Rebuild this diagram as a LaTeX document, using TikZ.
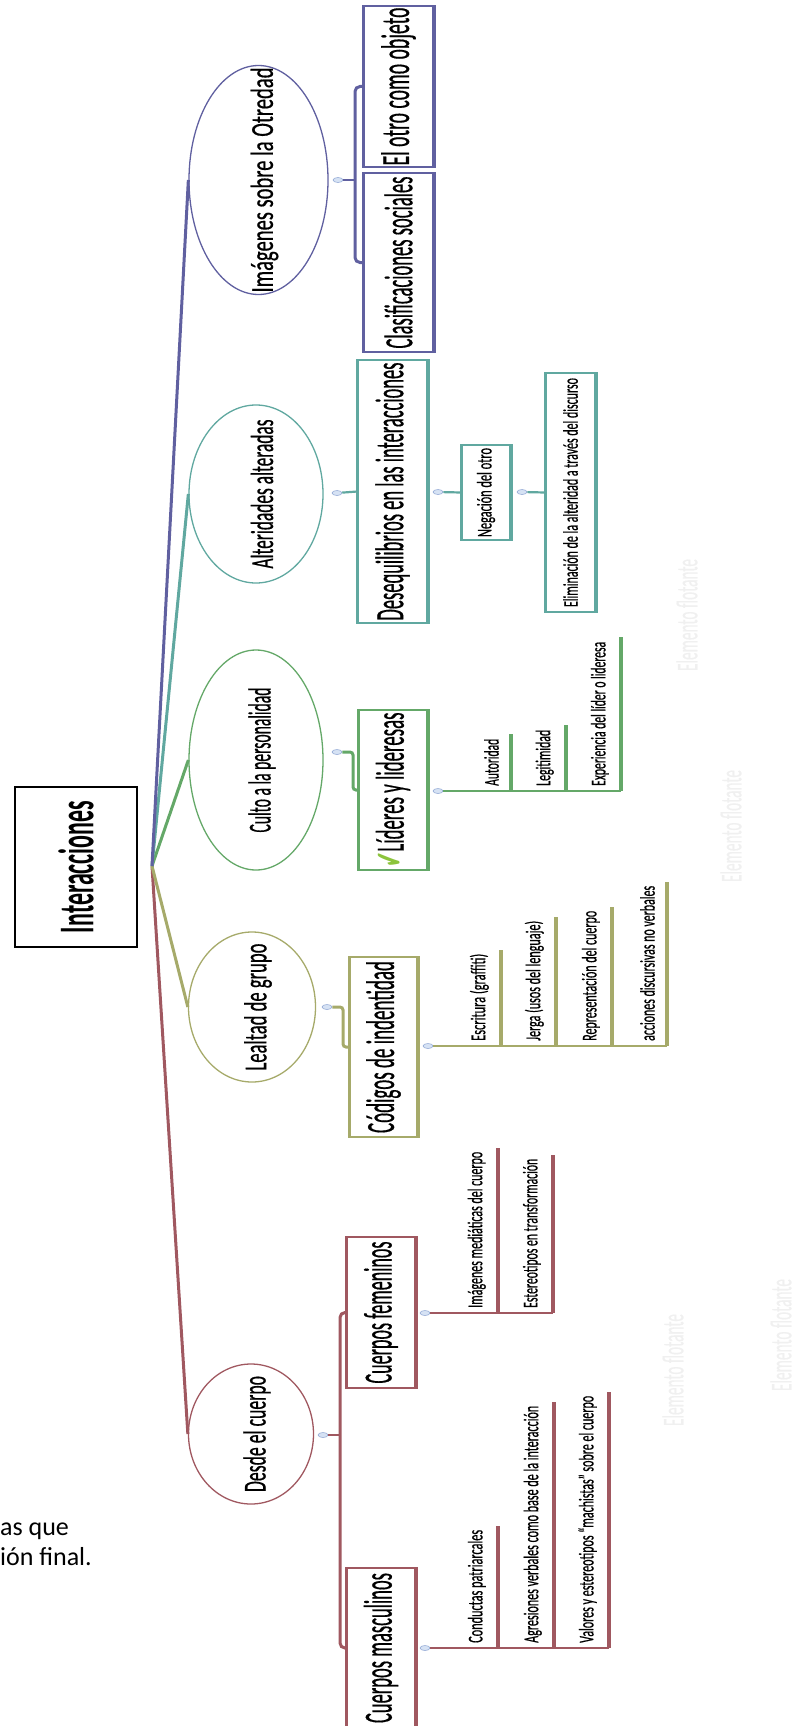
\documentclass[tikz,border=0pt]{standalone}
\usepackage{fontspec}
\usepackage{graphicx}
\setmainfont{Carlito}
\newfontfamily\mapfont{Carlito}[FakeBold=0.7]
\newfontfamily\symfont{DejaVu Sans}
\usetikzlibrary{shapes.geometric}

\definecolor{otredad}{RGB}{96,96,160}
\definecolor{alter}{RGB}{96,168,160}
\definecolor{culto}{RGB}{100,168,104}
\definecolor{lealtad}{RGB}{166,170,106}
\definecolor{cuerpo}{RGB}{160,88,96}
\definecolor{togfill}{RGB}{214,226,244}
\definecolor{togrim}{RGB}{150,172,214}
\definecolor{chk}{RGB}{140,196,60}

\newcommand{\uptext}[2]{\rotatebox{90}{\resizebox{#1pt}{\height}{#2}}}

\begin{document}
\begin{tikzpicture}[x=1pt,y=-1pt,
  rootbox/.style={draw,line width=2pt,inner sep=0,minimum width=122pt,minimum height=160pt,font=\fontsize{50}{50}\selectfont\bfseries},
  topic/.style={ellipse,draw,line width=1.3pt,inner sep=0,label={[inner sep=0,xshift=6pt,font=\fontsize{32}{32}\mapfont]center:#1}},
  subbox/.style={draw,line width=1.5pt,inner sep=0,font=\fontsize{40}{40}\mapfont},
  smallbox/.style={draw,line width=1.5pt,inner sep=0,font=\fontsize{21}{21}\mapfont},
  leaf/.style={inner sep=0,anchor=south east,font=\fontsize{21}{21}\mapfont},
  toggle/.style={ellipse,draw=togrim,fill=togfill,line width=0.6pt,minimum width=10pt,minimum height=5pt,inner sep=0},
  branch/.style={line width=3pt},
  twig/.style={line width=2.2pt},
  tick/.style={line width=3.5pt},
  side/.style={line width=3.5pt},
  floating/.style={inner sep=0,text=black!6,font=\fontsize{30}{30}\mapfont}]

\useasboundingbox (0,0) rectangle (801,1726);

\node[rootbox] (inter) at (76,867) {\uptext{132}{Interacciones}};
\coordinate (hub) at (152,866);

\node[topic={\uptext{225}{Imágenes sobre la Otredad}},draw=otredad,minimum width=139pt,minimum height=229pt] (otredad) at (258.5,180) {};
\node[topic={\uptext{149}{Alteridades alteradas}},draw=alter,minimum width=134pt,minimum height=178pt] (alter) at (256,494) {};
\node[topic={\uptext{145}{Culto a la personalidad}},draw=culto,minimum width=134pt,minimum height=220pt] (culto) at (256,760) {};
\node[topic={\uptext{127}{Lealtad de grupo}},draw=lealtad,minimum width=127pt,minimum height=150pt] (lealtad) at (252,1007) {};
\node[topic={\uptext{116}{Desde el cuerpo}},draw=cuerpo,minimum width=125pt,minimum height=140pt] (desde) at (251,1434) {};

\draw[branch,cuerpo] (hub) -- (desde.west);
\draw[branch,lealtad] (hub) -- (lealtad.west);
\draw[branch,culto] (hub) -- (culto.west);
\draw[branch,alter] (hub) -- (alter.west);
\draw[branch,otredad] (hub) -- (otredad.west);

\node[toggle] (tg1) at (338,180) {};
\node[toggle] (tg2) at (337,493) {};
\node[toggle] (tg3) at (337,752) {};
\node[toggle] (tg4) at (327,1007) {};
\node[toggle] (tg5) at (323,1435) {};

\node[subbox,draw=otredad,minimum width=69pt,minimum height=161pt] (otro) at (398.5,86.5) {\uptext{158}{El otro como objeto}};
\node[subbox,draw=otredad,minimum width=69pt,minimum height=179pt] (clasif) at (398.5,262.5) {\uptext{172}{Clasificaciones sociales}};
\node[subbox,draw=alter,minimum width=69pt,minimum height=263pt] (deseq) at (392.5,491.5) {\uptext{258}{Desequilibrios en las interacciones}};
\node[subbox,draw=culto,minimum width=68pt,minimum height=160pt] (lideres) at (393,790) {\uptext{155}{{\symfont\color{chk}✔}Líderes y lideresas}};
\node[subbox,draw=lealtad,minimum width=67pt,minimum height=180pt] (codigos) at (383.5,1047) {\uptext{172}{Códigos de indentidad}};
\node[subbox,draw=cuerpo,minimum width=68pt,minimum height=151pt] (femen) at (381,1312.5) {\uptext{142}{Cuerpos femeninos}};
\node[subbox,draw=cuerpo,minimum width=68pt,minimum height=160pt] (mascul) at (381,1648) {\uptext{150}{Cuerpos masculinos}};

\draw[side,otredad] (otro.north west) -- (otro.south west) (otro.north east) -- (otro.south east);
\draw[side,otredad] (clasif.north west) -- (clasif.south west) (clasif.north east) -- (clasif.south east);
\draw[side,alter] (deseq.north west) -- (deseq.south west) (deseq.north east) -- (deseq.south east);
\draw[side,culto] (lideres.north west) -- (lideres.south west) (lideres.north east) -- (lideres.south east);
\draw[side,lealtad] (codigos.north west) -- (codigos.south west) (codigos.north east) -- (codigos.south east);
\draw[side,cuerpo] (femen.north west) -- (femen.south west) (femen.north east) -- (femen.south east);
\draw[side,cuerpo] (mascul.north west) -- (mascul.south west) (mascul.north east) -- (mascul.south east);

\coordinate (b1) at (355,180);
\draw[twig,otredad] (tg1) -- (b1);
\draw[branch,otredad,rounded corners=5pt] (otro.west) -| (b1) |- (clasif.west);
\draw[twig,alter] (tg2) -- (deseq.west);
\coordinate (b3) at (353,752);
\draw[branch,culto,rounded corners=3pt] (tg3) -- (b3) |- (lideres.west);
\coordinate (b4) at (343,1007);
\draw[branch,lealtad,rounded corners=3pt] (tg4) -- (b4) |- (codigos.west);
\coordinate (b5) at (340,1435);
\draw[twig,cuerpo] (tg5) -- (b5);
\draw[branch,cuerpo,rounded corners=5pt] (femen.west) -| (b5) |- (mascul.west);

\node[smallbox,draw=alter,minimum width=48pt,minimum height=95pt] (negac) at (486,492.5) {\uptext{89}{Negación del otro}};
\node[smallbox,draw=alter,minimum width=49pt,minimum height=239pt] (elimin) at (570.5,492.5) {\uptext{229}{Eliminación de la alteridad a través del discurso}};
\draw[side,alter] (negac.north west) -- (negac.south west) (negac.north east) -- (negac.south east);
\draw[side,alter] (elimin.north west) -- (elimin.south west) (elimin.north east) -- (elimin.south east);
\node[toggle] (tg6) at (438,492) {};
\node[toggle] (tg7) at (522,492) {};
\draw[twig,alter] (tg6) -- (negac.west);
\draw[twig,alter] (tg7) -- (elimin.west);

\node[toggle] (tg8) at (438,791) {};
\node[leaf] (autor) at (499,786) {\uptext{47}{Autoridad}};
\node[leaf] (legit) at (554,786) {\uptext{56}{Legitimidad}};
\node[leaf] (exper) at (609,786) {\uptext{144}{Experiencia del líder o lideresa}};
\coordinate (k1) at (511,791);
\coordinate (k2) at (566,791);
\coordinate (k3) at (621,791);
\draw[twig,culto] (tg8) -- (k3);
\draw[tick,culto] (k1) -- ([yshift=5pt]k1 |- autor.north);
\draw[tick,culto] (k2) -- ([yshift=5pt]k2 |- legit.north);
\draw[tick,culto] (k3) -- ([yshift=5pt]k3 |- exper.north);

\node[toggle] (tg9) at (428,1046) {};
\node[leaf] (escri) at (489,1041) {\uptext{87}{Escritura (graffiti)}};
\node[leaf] (jerga) at (544,1041) {\uptext{120}{Jerga (usos del lenguaje)}};
\node[leaf] (repre) at (600,1041) {\uptext{130}{Representación del cuerpo}};
\node[leaf] (accio) at (655,1041) {\uptext{155}{acciones discursivas no verbales}};
\coordinate (k4) at (501,1046);
\coordinate (k5) at (556,1046);
\coordinate (k6) at (612,1046);
\coordinate (k7) at (667,1046);
\draw[twig,lealtad] (tg9) -- (k7);
\draw[tick,lealtad] (k4) -- ([yshift=4pt]k4 |- escri.north);
\draw[tick,lealtad] (k5) -- ([yshift=4pt]k5 |- jerga.north);
\draw[tick,lealtad] (k6) -- ([yshift=4pt]k6 |- repre.north);
\draw[tick,lealtad] (k7) -- ([yshift=4pt]k7 |- accio.north);

\node[toggle] (tg10) at (425,1313) {};
\node[leaf] (media) at (486,1308) {\uptext{156}{Imágenes mediáticas del cuerpo}};
\node[leaf] (ester) at (541,1308) {\uptext{149}{Estereotipos en transformación}};
\coordinate (k8) at (498,1313);
\coordinate (k9) at (553,1313);
\draw[twig,cuerpo] (tg10) -- (k9);
\draw[tick,cuerpo] (k8) -- ([yshift=4pt]k8 |- media.north);
\draw[tick,cuerpo] (k9) -- ([yshift=4pt]k9 |- ester.north);

\node[toggle] (tg11) at (425,1648) {};
\node[leaf] (condu) at (486,1643) {\uptext{113}{Conductas patriarcales}};
\node[leaf] (agres) at (542,1643) {\uptext{237}{Agresiones verbales como base de la interacción}};
\node[leaf] (valor) at (597,1643) {\uptext{247}{Valores y estereotipos “machistas” sobre el cuerpo}};
\coordinate (k10) at (498,1648);
\coordinate (k11) at (554,1648);
\coordinate (k12) at (609,1648);
\draw[twig,cuerpo] (tg11) -- (k12);
\draw[tick,cuerpo] (k10) -- ([yshift=4pt]k10 |- condu.north);
\draw[tick,cuerpo] (k11) -- ([yshift=4pt]k11 |- agres.north);
\draw[tick,cuerpo] (k12) -- ([yshift=4pt]k12 |- valor.north);

\node[floating] (fl1) at (687,615) {\uptext{112}{Elemento flotante}};
\node[floating] (fl2) at (731,826) {\uptext{112}{Elemento flotante}};
\node[floating] (fl3) at (673,1370) {\uptext{112}{Elemento flotante}};
\node[floating] (fl4) at (781,1335) {\uptext{112}{Elemento flotante}};

\node[anchor=base west,inner sep=0,font=\fontsize{26}{26}\selectfont] (frag1) at (0,1535) {as que};
\node[anchor=base west,inner sep=0,font=\fontsize{26}{26}\selectfont] (frag2) at (0,1565) {ión final.};

\end{tikzpicture}
\end{document}
